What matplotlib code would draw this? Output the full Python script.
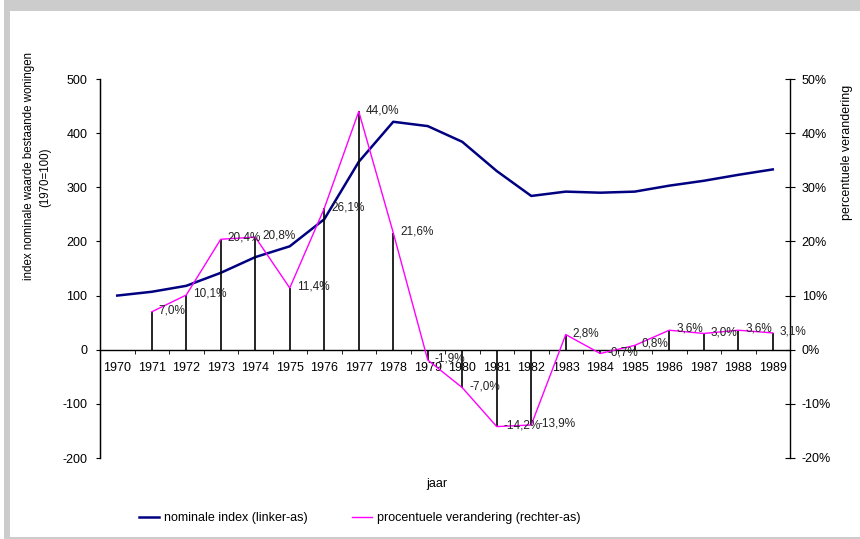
import matplotlib.pyplot as plt
from matplotlib.patches import Rectangle
from matplotlib.ticker import FuncFormatter

plt.rcParams['font.family'] = ['Liberation Sans', 'DejaVu Sans']
plt.rcParams['axes.unicode_minus'] = False

# index nominale waarde bestaande woningen (1970=100)
jaren = list(range(1970, 1990))
index = [100, 107, 118, 142, 171, 191, 241, 347, 421, 413,
         384, 330, 284, 292, 290, 292, 303, 312, 323, 333]

# procentuele verandering t.o.v. vorig jaar (vanaf 1971)
pct_jaren = jaren[1:]
pct = [7.0, 10.1, 20.4, 20.8, 11.4, 26.1, 44.0, 21.6, -1.9, -7.0,
       -14.2, -13.9, 2.8, -0.7, 0.8, 3.6, 3.0, 3.6, 3.1]

fs = 9

fig = plt.figure(figsize=(8.6, 5.39), dpi=100)
fig.patch.set_facecolor('white')

# grijze rand rond de grafiek
W, H = 860, 539
grijs = '#cccccc'
fig.add_artist(Rectangle((4 / W, 0), 6 / W, 1, transform=fig.transFigure,
                         facecolor=grijs, edgecolor='none'))
fig.add_artist(Rectangle((4 / W, 1 - 11 / H), 1, 11 / H, transform=fig.transFigure,
                         facecolor=grijs, edgecolor='none'))
fig.add_artist(Rectangle((4 / W, 0), 1, 2 / H, transform=fig.transFigure,
                         facecolor=grijs, edgecolor='none'))

ax = fig.add_axes([100 / W, 1 - 458 / H, 690 / W, 379 / H])
ax2 = ax.twinx()

l1, = ax.plot(jaren, index, color='#000080', lw=1.8, zorder=3)
ax.set_ylim(-200, 500)
ax.set_xlim(1969.5, 1989.5)
ax.set_yticks(range(-200, 501, 100))

ax2.vlines(pct_jaren, 0, pct, color='black', lw=1.2, zorder=2)
l2, = ax2.plot(pct_jaren, pct, color='#ff00ff', lw=1.0, zorder=3)
ax2.set_ylim(-20, 50)
ax2.set_yticks(range(-20, 51, 10))
ax2.yaxis.set_major_formatter(FuncFormatter(lambda v, p: f'{v:.0f}%'))

for j, v in zip(pct_jaren, pct):
    ax2.annotate(f'{v:.1f}%'.replace('.', ','), (j, v), xytext=(5, 1),
                 textcoords='offset points', ha='left', va='center',
                 fontsize=8.5, color='#222222', zorder=4)

# assen in Excel-stijl: x-as door nul
for a in (ax, ax2):
    a.spines['top'].set_visible(False)
ax.spines['right'].set_visible(False)
ax.spines['bottom'].set_position(('data', 0))
ax2.spines['bottom'].set_visible(False)
ax2.spines['right'].set_linewidth(1.0)
ax.spines['left'].set_linewidth(1.0)
ax.spines['bottom'].set_linewidth(1.0)

ax.set_xticks(jaren)
ax.set_xticklabels([str(j) for j in jaren])
ax.set_xticks([j + 0.5 for j in jaren[:-1]], minor=True)
ax.tick_params(axis='x', which='major', length=0, pad=9, labelsize=fs)
ax.tick_params(axis='x', which='minor', length=3, direction='out')
ax.tick_params(axis='y', length=3, direction='out', labelsize=fs, pad=6)
ax2.tick_params(axis='y', length=7, direction='inout', labelsize=fs, pad=5)
ax.set_facecolor('none')

fig.text(437 / W, 1 - 484 / H, 'jaar', ha='center', va='center', fontsize=fs)
fig.text(29 / W, 1 - 166 / H, 'index nominale waarde bestaande woningen',
         rotation=90, ha='center', va='center', fontsize=8.3)
fig.text(45 / W, 1 - 177 / H, '(1970=100)',
         rotation=90, ha='center', va='center', fontsize=8.3)
fig.text(847 / W, 1 - 152 / H, 'percentuele verandering',
         rotation=90, ha='center', va='center', fontsize=fs)

fig.legend([l1, l2], ['nominale index (linker-as)',
                      'procentuele verandering (rechter-as)'],
           loc='center left', bbox_to_anchor=(128 / W, 1 - 518 / H),
           ncol=2, frameon=False, fontsize=fs, handlelength=1.6,
           handletextpad=0.35, columnspacing=3.6)

fig.savefig('out.png', dpi=100)
